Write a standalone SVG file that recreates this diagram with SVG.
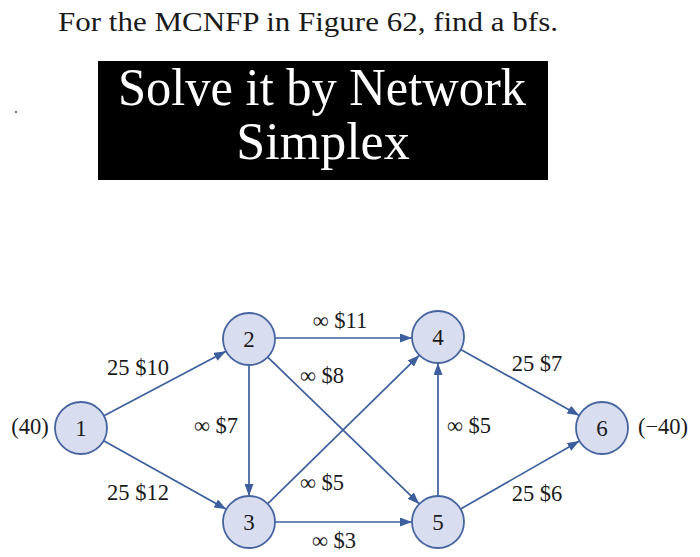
<svg xmlns="http://www.w3.org/2000/svg" width="700" height="557" viewBox="0 0 700 557">
<defs>
<style>
.t{font-family:"Liberation Serif","Times New Roman",serif;fill:#1a1a1a}
.lbl{font-size:22.5px;text-anchor:middle}
.node circle{fill:#d9ddf0;stroke:#46649f;stroke-width:1.8}
.node text{font-family:"Liberation Serif","Times New Roman",serif;font-size:23px;text-anchor:middle;fill:#1a1a1a}
.edge{stroke:#3d5f9e;stroke-width:1.7;fill:none;marker-end:url(#ah)}
</style>
<marker id="ah" markerUnits="userSpaceOnUse" markerWidth="13" markerHeight="9" refX="12" refY="4.5" orient="auto">
<path d="M0,0 L12,4.5 L0,9 z" fill="#3d5f9e"/>
</marker>
</defs>
<rect width="700" height="557" fill="#ffffff"/>
<text class="t" x="58" y="31" font-size="28" textLength="500" lengthAdjust="spacingAndGlyphs">For the MCNFP in Figure 62, find a bfs.</text>
<rect x="98" y="61" width="450" height="119" fill="#000000"/>
<text x="322" y="105" font-family="Liberation Serif, serif" font-size="52" fill="#ffffff" text-anchor="middle" textLength="408" lengthAdjust="spacingAndGlyphs">Solve it by Network</text>
<text x="323" y="159" font-family="Liberation Serif, serif" font-size="52" fill="#ffffff" text-anchor="middle">Simplex</text>
<circle cx="16" cy="112" r="1.2" fill="#777777"/>
<g id="connectors">
<line class="edge" x1="104" y1="415.8" x2="226" y2="351.2"/>
<line class="edge" x1="103.7" y1="440.7" x2="226.3" y2="509.3"/>
<line class="edge" x1="249" y1="365" x2="249" y2="496"/>
<line class="edge" x1="275" y1="338" x2="412" y2="338"/>
<line class="edge" x1="267.7" y1="357.1" x2="419.3" y2="503.9"/>
<line class="edge" x1="267.6" y1="503.8" x2="419.4" y2="355.2"/>
<line class="edge" x1="275" y1="522" x2="412" y2="522"/>
<line class="edge" x1="438" y1="496" x2="438" y2="363"/>
<line class="edge" x1="460.7" y1="349.6" x2="579.3" y2="415.4"/>
<line class="edge" x1="460.6" y1="509.1" x2="579.4" y2="440.9"/>
</g>
<g id="labels">
<text class="t lbl" x="30" y="434">(40)</text>
<text class="t lbl" x="663" y="434">(−40)</text>
<text class="t lbl" x="138" y="375">25 $10</text>
<text class="t lbl" x="138" y="500">25 $12</text>
<text class="t lbl" x="216" y="433">∞ $7</text>
<text class="t lbl" x="322" y="383">∞ $8</text>
<text class="t lbl" x="322" y="490">∞ $5</text>
<text class="t lbl" x="340" y="328">∞ $11</text>
<text class="t lbl" x="334" y="548">∞ $3</text>
<text class="t lbl" x="537" y="371">25 $7</text>
<text class="t lbl" x="469" y="433">∞ $5</text>
<text class="t lbl" x="537" y="501">25 $6</text>
</g>
<g id="node1" class="node"><circle cx="81" cy="428" r="26"/><text x="81" y="436">1</text></g>
<g id="node2" class="node"><circle cx="249" cy="339" r="26"/><text x="249" y="347">2</text></g>
<g id="node3" class="node"><circle cx="249" cy="522" r="26"/><text x="249" y="530">3</text></g>
<g id="node4" class="node"><circle cx="438" cy="337" r="26"/><text x="438" y="345">4</text></g>
<g id="node5" class="node"><circle cx="438" cy="522" r="26"/><text x="438" y="530">5</text></g>
<g id="node6" class="node"><circle cx="602" cy="428" r="26"/><text x="602" y="436">6</text></g>
</svg>
